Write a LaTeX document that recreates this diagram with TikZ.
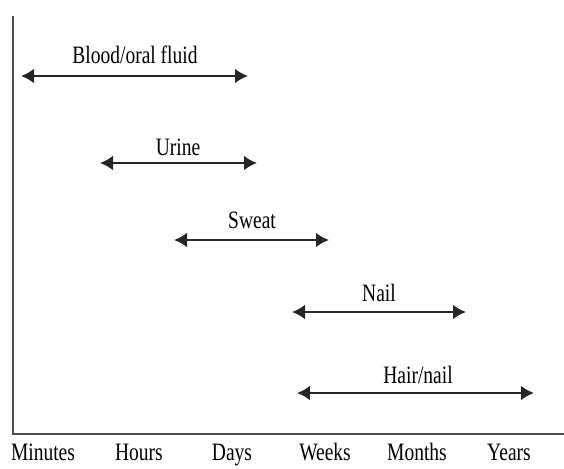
\documentclass[tikz,border=0pt]{standalone}
\usepackage{fontspec}
\setmainfont{Liberation Serif}
\usetikzlibrary{arrows.meta}
\tikzset{
  span/.style={line width=2.8pt, color=black!85, {Latex[length=13pt,width=15pt]}-{Latex[length=13pt,width=15pt]}},
  lbl/.style={inner sep=0pt, text height=16pt, text depth=5pt, font=\fontsize{25}{27}\selectfont, text=black},
  axis/.style={line width=2.2pt, color=black!70}
}
\newcommand{\sq}[1]{\scalebox{0.78}[1]{#1}}
\begin{document}
\begin{tikzpicture}[x=1pt,y=-1pt]
\useasboundingbox (0,0) rectangle (564,468);
\coordinate (top) at (13,16);
\coordinate (origin) at (13,434);
\coordinate (right) at (564,434);
\draw[axis] (top) -- (origin) -- (right);
% arrows
\coordinate (b1) at (21,76); \coordinate (b2) at (248,76);
\coordinate (u1) at (100,163); \coordinate (u2) at (257,163);
\coordinate (s1) at (174,240); \coordinate (s2) at (329,240);
\coordinate (n1) at (292,312); \coordinate (n2) at (466,312);
\coordinate (h1) at (297,393); \coordinate (h2) at (534,393);
\draw[span] (b1) -- (b2);
\draw[span] (u1) -- (u2);
\draw[span] (s1) -- (s2);
\draw[span] (n1) -- (n2);
\draw[span] (h1) -- (h2);
\node[lbl] (lb) at (135,58) {\sq{Blood/oral fluid}};
\node[lbl] (lu) at (178,150) {\sq{Urine}};
\node[lbl] (ls) at (252,223) {\sq{Sweat}};
\node[lbl] (ln) at (379,296) {\sq{Nail}};
\node[lbl] (lh) at (418,378) {\sq{Hair/nail}};
% time labels
\node[lbl] (t1) at (43,455) {\sq{Minutes}};
\node[lbl] (t2) at (139,455) {\sq{Hours}};
\node[lbl] (t3) at (232,455) {\sq{Days}};
\node[lbl] (t4) at (325,455) {\sq{Weeks}};
\node[lbl] (t5) at (417,455) {\sq{Months}};
\node[lbl] (t6) at (509,455) {\sq{Years}};
\end{tikzpicture}
\end{document}
